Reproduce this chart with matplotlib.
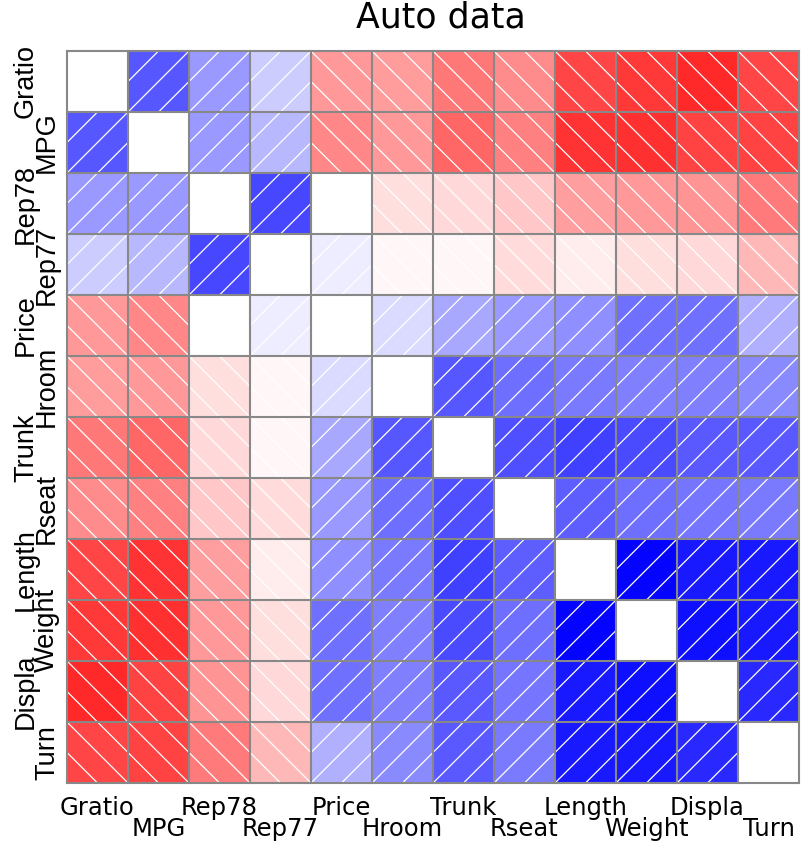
import matplotlib
matplotlib.use("Agg")
import matplotlib.pyplot as plt
from matplotlib.patches import Rectangle

# variable order as in the corrgram
variables = ["Gratio", "MPG", "Rep78", "Rep77", "Price", "Hroom",
             "Trunk", "Rseat", "Length", "Weight", "Displa", "Turn"]

# upper triangle correlations, row by row
r_gratio = [0.66, 0.40, 0.20, -0.40, -0.39, -0.53, -0.45, -0.73, -0.78, -0.84, -0.73]
r_mpg = [0.40, 0.28, -0.47, -0.40, -0.60, -0.50, -0.80, -0.81, -0.74, -0.74]
r_rep78 = [0.72, 0.0, -0.13, -0.15, -0.22, -0.38, -0.40, -0.42, -0.52]
r_rep77 = [0.07, -0.03, -0.03, -0.14, -0.07, -0.13, -0.15, -0.28]
r_price = [0.14, 0.34, 0.40, 0.44, 0.56, 0.56, 0.31]
r_hroom = [0.66, 0.57, 0.52, 0.50, 0.50, 0.46]
r_trunk = [0.69, 0.75, 0.71, 0.65, 0.65]
r_rseat = [0.63, 0.57, 0.54, 0.52]
r_length = [0.99, 0.90, 0.90]
r_weight = [0.94, 0.90]
r_displa = [0.84]

upper = [r_gratio, r_mpg, r_rep78, r_rep77, r_price, r_hroom,
         r_trunk, r_rseat, r_length, r_weight, r_displa]

n = len(variables)
corr = [[1.0] * n for _ in range(n)]
for i, row in enumerate(upper):
    for k, r in enumerate(row):
        j = i + 1 + k
        corr[i][j] = r
        corr[j][i] = r


def shade(r):
    # white -> blue for positive, white -> red for negative
    a = min(abs(r), 1.0)
    if r >= 0:
        return (1 - a, 1 - a, 1.0)
    return (1.0, 1 - a, 1 - a)


W, H = 804, 841
fig = plt.figure(figsize=(W / 100, H / 100), dpi=100)
ax = fig.add_axes([67 / W, (H - 783) / H, 732 / W, 732 / H])
ax.set_xlim(0, n)
ax.set_ylim(n, 0)
ax.axis("off")

for i in range(n):
    for j in range(n):
        if i == j:
            ax.add_patch(Rectangle((j, i), 1, 1, facecolor="white", edgecolor="none", zorder=1))
            continue
        r = corr[i][j]
        ax.add_patch(Rectangle((j, i), 1, 1, facecolor=shade(r), edgecolor="none", zorder=1))
        # white hatch lines, "/" for positive, "\" for negative
        for d in [0.5, 1.0, 1.5]:
            if r > 0:
                if d <= 1:
                    xs, ys = [j, j + d], [i + d, i]
                else:
                    xs, ys = [j + d - 1, j + 1], [i + 1, i + d - 1]
            else:
                e = d - 1.0
                if e >= 0:
                    xs, ys = [j + e, j + 1], [i, i + 1 - e]
                else:
                    xs, ys = [j, j + 1 + e], [i - e, i + 1]
            ax.plot(xs, ys, color="white", lw=0.9, zorder=2, solid_capstyle="butt")

# grey cell borders
for k in range(n + 1):
    ax.plot([0, n], [k, k], color="#888888", lw=1.5, zorder=3, clip_on=False)
    ax.plot([k, k], [0, n], color="#888888", lw=1.5, zorder=3, clip_on=False)

cell = 732 / n
sans = ["Liberation Sans", "DejaVu Sans"]

# row labels on the left, staggered in two columns (baseline on the right side)
for i, name in enumerate(variables):
    x = 33 if i % 2 == 0 else 54
    y = 51 + cell * (i + 0.5)
    fig.text(x / W, 1 - y / H, name, rotation=90, rotation_mode="anchor",
             ha="center", va="baseline", fontsize=19.5, family=sans)

# column labels at the bottom, staggered in two rows
for j, name in enumerate(variables):
    x = 67 + cell * (j + 0.5)
    y = 815 if j % 2 == 0 else 836
    fig.text(x / W, 1 - y / H, name, ha="center", va="baseline",
             fontsize=17.5, family="DejaVu Sans")

fig.text(441 / W, 1 - 27 / H, "Auto data", ha="center", va="baseline",
         fontsize=25, family="DejaVu Sans")

fig.savefig("out.png", dpi=100)
